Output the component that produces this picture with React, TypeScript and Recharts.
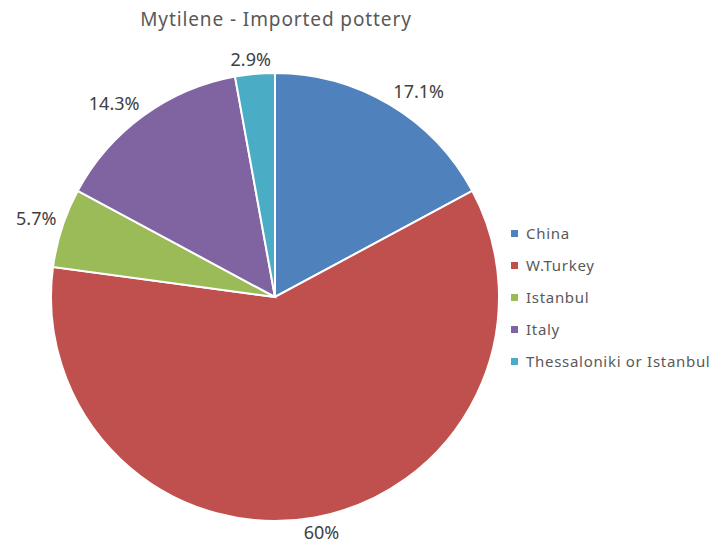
import React from "react";
import { PieChart, Pie, Cell, Legend } from "recharts";

const categories = ["China", "W.Turkey", "Istanbul", "Italy", "Thessaloniki or Istanbul"];
const counts = [6, 21, 2, 5, 1];
const colors = ["#4F81BD", "#C0504D", "#9BBB59", "#8064A2", "#4BACC6"];

const data = categories.map((name, i) => ({ name, value: counts[i] }));

const FONT = "'Noto Sans', 'Open Sans', sans-serif";
const RAD = Math.PI / 180;

const renderLabel = (props: any) => {
  const { cx, cy, midAngle, outerRadius, percent } = props;
  const pct = Math.round(percent * 1000) / 10;
  const txt = (Number.isInteger(pct) ? pct.toFixed(0) : pct.toFixed(1)) + "%";
  const cos = Math.cos(-midAngle * RAD);
  const sin = Math.sin(-midAngle * RAD);
  const w = txt.length * 10.5;
  const h = 15;
  const r0 = outerRadius + 5;
  const px = cx + r0 * cos;
  const py = cy + r0 * sin;
  const fx = Math.max(-1, Math.min(1, cos * 2));
  const x = px + (w / 2) * fx;
  const y = py + (h / 2) * Math.sign(sin) + 2 * sin;
  return (
    <text x={x} y={y} textAnchor="middle" dominantBaseline="central" fill="#404040" fontSize={18} fontFamily={FONT}>
      {txt}
    </text>
  );
};

const renderLegend = () => (
  <div style={{ fontFamily: FONT, fontSize: 15, letterSpacing: 0.7, color: "#595959" }}>
    {categories.map((name, i) => (
      <div key={name} style={{ height: 32, display: "flex", alignItems: "center" }}>
        <span style={{ display: "inline-block", width: 7, height: 7, background: colors[i], marginRight: 8 }} />
        <span>{name}</span>
      </div>
    ))}
  </div>
);

export default function App() {
  return (
    <div style={{ position: "absolute", left: 0, top: 0, width: 715, height: 550, background: "#fff" }}>
      <PieChart width={715} height={550} margin={{ top: 0, right: 0, bottom: 0, left: 0 }}>
        <text x={276} y={19} textAnchor="middle" dominantBaseline="central" fill="#595959" fontSize={19} letterSpacing={0.9} fontFamily={FONT}>
          Mytilene - Imported pottery
        </text>
        <Pie
          data={data}
          dataKey="value"
          nameKey="name"
          cx={275}
          cy={297}
          outerRadius={224}
          startAngle={90}
          endAngle={-270}
          stroke="#ffffff"
          strokeWidth={2}
          label={renderLabel}
          labelLine={false}
          isAnimationActive={false}
        >
          {data.map((d, i) => (
            <Cell key={d.name} fill={colors[i]} />
          ))}
        </Pie>
        <Legend
          layout="vertical"
          content={renderLegend}
          wrapperStyle={{ left: 511, top: 217, width: 204 }}
        />
      </PieChart>
    </div>
  );
}
